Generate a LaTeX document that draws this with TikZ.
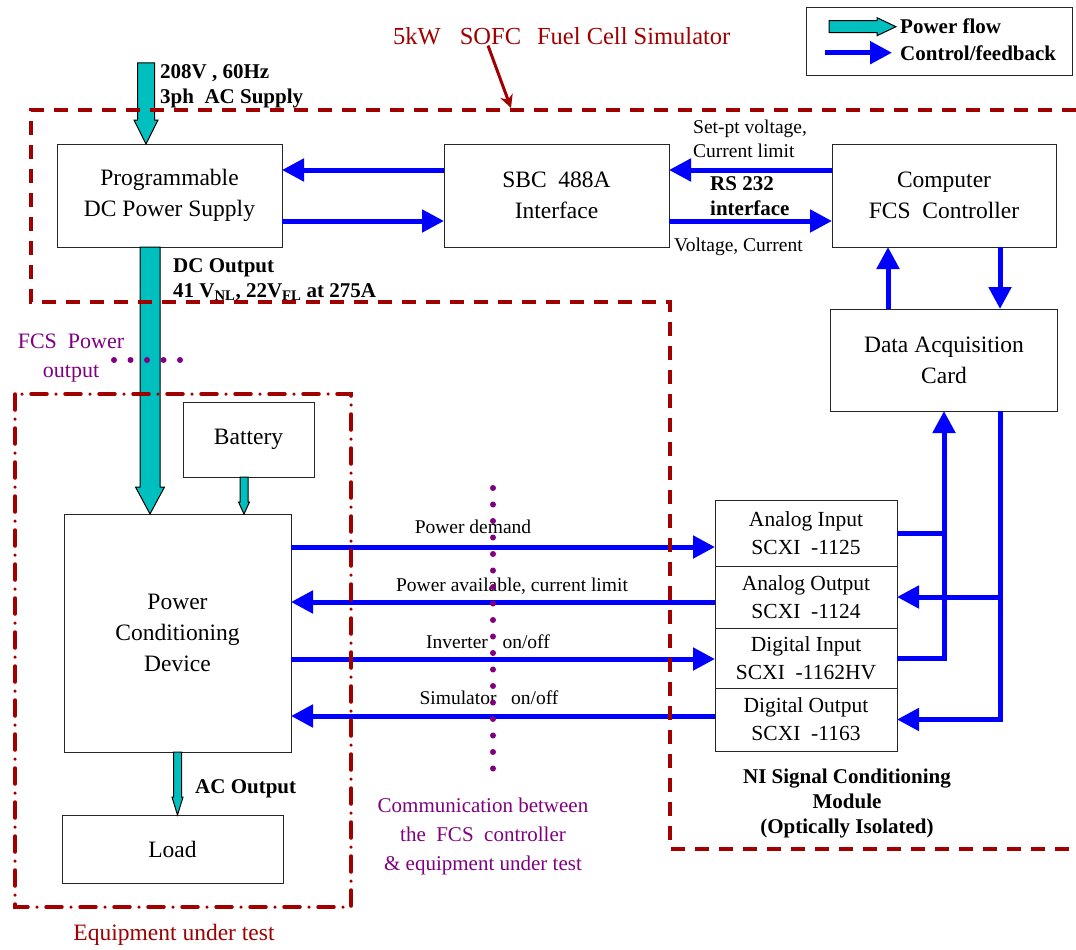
\documentclass[tikz,border=0pt]{standalone}
\usepackage{fontspec}
\setmainfont{Liberation Serif}
\usetikzlibrary{arrows.meta,positioning,calc}
\definecolor{SimRed}{HTML}{A00000}
\definecolor{CommPurple}{HTML}{800080}
\definecolor{PowerCyan}{HTML}{00BFBF}
% fat power-flow arrow: from, to, shaft half width, head half width, head length
\newcommand{\fatarrow}[5]{%
  \coordinate (fah) at ($(#2)!#5!(#1)$);
  \draw[power] ($(#1)!#3!90:(#2)$) -- ($(fah)!#3!90:(#2)$) -- ($(fah)!#4!90:(#2)$) -- (#2)
    -- ($(fah)!#4!-90:(#2)$) -- ($(fah)!#3!-90:(#2)$) -- ($(#1)!#3!-90:(#2)$) -- cycle;}

\begin{document}
\begin{tikzpicture}[x=1pt, y=-1pt,
  box/.style={draw=black!85, line width=0.9pt, fill=white, align=center, inner sep=0pt, outer sep=0pt, font=\fontsize{23.5}{31}\selectfont},
  modbox/.style={box, minimum width=182pt, font=\fontsize{21.5}{28}\selectfont},
  lbl/.style={inner sep=0pt, font=\fontsize{19.5}{24}\selectfont},
  blbl/.style={inner sep=0pt, align=left, font=\bfseries\fontsize{21}{25}\selectfont},
  ctrl/.style={draw=blue, line width=5pt, -{Triangle[length=22pt,width=22pt]}},
  bus/.style={draw=blue, line width=5pt},
  power/.style={draw=black, line width=1pt, fill=PowerCyan},
  simzone/.style={draw=SimRed, line width=3.5pt, dash pattern=on 14pt off 10pt},
  eutzone/.style={draw=SimRed, line width=3.5pt, line cap=round, dash pattern=on 16pt off 9pt on 0pt off 9pt},
  commline/.style={draw=CommPurple, line width=6pt, line cap=round, dash pattern=on 0pt off 16.5pt}
]
\useasboundingbox (0,0) rectangle (1076,950);

% title and legend
\node[anchor=base west, inner sep=0pt, text=SimRed, font=\fontsize{24.5}{28}\selectfont] (title) at (393,45) {5kW\hspace{19pt}SOFC\hspace{16pt}Fuel Cell Simulator};
\node[draw=black!85, line width=0.9pt, minimum width=266pt, minimum height=68pt, anchor=north west] (legend) at (806,7) {};
\node[blbl, anchor=base west] (pflow) at (900,34) {Power flow};
\node[blbl, anchor=base west] (cflow) at (900,60) {Control/feedback};

% simulator side
\node[box, minimum width=225pt, minimum height=103pt, anchor=north west] (psu) at (57,144) {Programmable\\DC Power Supply};
\node[box, minimum width=225pt, minimum height=103pt, right=162pt of psu] (sbc) {SBC\ \ 488A\\Interface};
\node[box, minimum width=224pt, minimum height=103pt, right=163pt of sbc] (comp) {Computer\\FCS\ \ Controller};
\node[box, minimum width=227pt, minimum height=102pt, below=62pt of comp] (daq) {Data Acquisition\\Card};

\node[modbox, minimum height=66pt, anchor=north west] (ain) at (715,500) {Analog Input\\SCXI\ \ -1125};
\node[modbox, minimum height=62pt, below=0pt of ain] (aout) {Analog Output\\SCXI\ \ -1124};
\node[modbox, minimum height=60pt, below=0pt of aout] (din) {Digital Input\\SCXI\ \ -1162HV};
\node[modbox, minimum height=63pt, below=0pt of din] (dout) {Digital Output\\SCXI\ \ -1163};
\node[blbl, align=center, anchor=base] (nimod) at (847,833) {NI Signal Conditioning\\Module\\(Optically Isolated)};

% equipment under test
\node[box, minimum width=131pt, minimum height=75pt, anchor=north west] (bat) at (183,402) {Battery};
\node[box, minimum width=227pt, minimum height=238pt, anchor=north west] (pcd) at (64,514) {Power\\Conditioning\\Device};
\node[box, minimum width=221pt, minimum height=68pt, anchor=north west] (load) at (62,815) {Load};

% labels
\node[blbl, anchor=base west] (acsup) at (160,103) {208V , 60Hz\\3ph\ \ AC Supply};
\node[blbl, anchor=base west] (dcout) at (173,297) {DC Output\\41\ V\textsubscript{NL}, 22V\textsubscript{FL} at 275A};
\node[lbl, align=left, anchor=base west] (setpt) at (693,157) {Set-pt voltage,\\Current limit};
\node[blbl, anchor=base west] (rs) at (710,215) {RS 232\\interface};
\node[lbl, anchor=base west] (vc) at (674,251) {Voltage, Current};
\node[blbl, anchor=base west] (acout) at (195,793) {AC Output};
\node[lbl, anchor=base] (pdem) at (473,533) {Power demand};
\node[lbl, anchor=base] (pavl) at (512,591) {Power available, current limit};
\node[lbl, anchor=base] (inv) at (488,648) {Inverter\ \ \ on/off};
\node[lbl, anchor=base] (simo) at (489,704) {Simulator\ \ \ on/off};
\node[anchor=base, align=center, inner sep=0pt, text=CommPurple, font=\fontsize{22}{29}\selectfont] (fcsout) at (71,377) {FCS\ \ Power\\output};
\node[anchor=base, align=center, inner sep=0pt, text=CommPurple, font=\fontsize{21}{29}\selectfont] (comm) at (483,870) {Communication between\\the\ \ FCS\ \ controller\\\& equipment under test};
\node[anchor=base, inner sep=0pt, text=SimRed, font=\fontsize{23.5}{28}\selectfont] (eut) at (174,940) {Equipment under test};

% power flow
\coordinate (acin) at (146,63);
\coordinate (psuin) at (acin |- psu.north);
\fatarrow{acin}{psuin}{8.5pt}{12pt}{24pt}
\coordinate (dcx) at ([xshift=-19.5pt]psu.south);
\coordinate (pcdin) at (dcx |- pcd.north);
\fatarrow{dcx}{pcdin}{10pt}{14.5pt}{27pt}
\coordinate (batx) at ([xshift=-4.5pt]bat.south);
\coordinate (batin) at (batx |- pcd.north);
\fatarrow{batx}{batin}{4pt}{5.5pt}{12pt}
\coordinate (loadin) at (pcd.south |- load.north);
\fatarrow{pcd.south}{loadin}{4pt}{5.5pt}{18pt}
\coordinate (lpa) at ([xshift=-71pt]pflow.west);
\coordinate (lpb) at ([xshift=-4pt]pflow.west);
\fatarrow{lpa}{lpb}{6pt}{9pt}{19pt}

% control / feedback
\draw[ctrl] ([xshift=-75pt]cflow.west) -- ([xshift=-8pt]cflow.west);
\draw[ctrl] (sbc.west |- 0,170) -- (psu.east |- 0,170);
\draw[ctrl] (psu.east |- 0,221) -- (sbc.west |- 0,221);
\draw[ctrl] (comp.west |- 0,170) -- (sbc.east |- 0,170);
\draw[ctrl] (sbc.east |- 0,221) -- (comp.west |- 0,221);
\draw[ctrl] ([xshift=56pt]comp.south) -- ([xshift=56pt]daq.north);
\draw[ctrl] ([xshift=-56pt]daq.north) -- ([xshift=-56pt]comp.south);
\draw[ctrl] (din.east) -| (daq.south);
\draw[bus] (ain.east) -- (ain.east -| daq.south);
\coordinate (fb) at ([xshift=56pt]daq.south);
\draw[ctrl] (fb) |- (dout.east);
\draw[ctrl] (aout.east -| fb) -- (aout.east);
\draw[ctrl] (pcd.east |- 0,547) -- (ain.west |- 0,547);
\draw[ctrl] (aout.west |- 0,602) -- (pcd.east |- 0,602);
\draw[ctrl] (pcd.east |- 0,659) -- (din.west |- 0,659);
\draw[ctrl] (dout.west |- 0,716) -- (pcd.east |- 0,716);

% boundaries
\draw[simzone] (1076,110) -- (31,110) -- (31,302) -- (670,302) -- (670,849) -- (1076,849);
\draw[eutzone] (15,394) rectangle (351,907);
\coordinate (simtip) at (511,108);
\draw[SimRed, line width=3pt, -{Stealth[length=13pt,width=13pt]}] ([xshift=95pt]title.south west) -- (simtip);
\draw[commline] (114,360) -- (183,360);
\draw[commline] (493,488) -- (493,784);
\end{tikzpicture}
\end{document}
